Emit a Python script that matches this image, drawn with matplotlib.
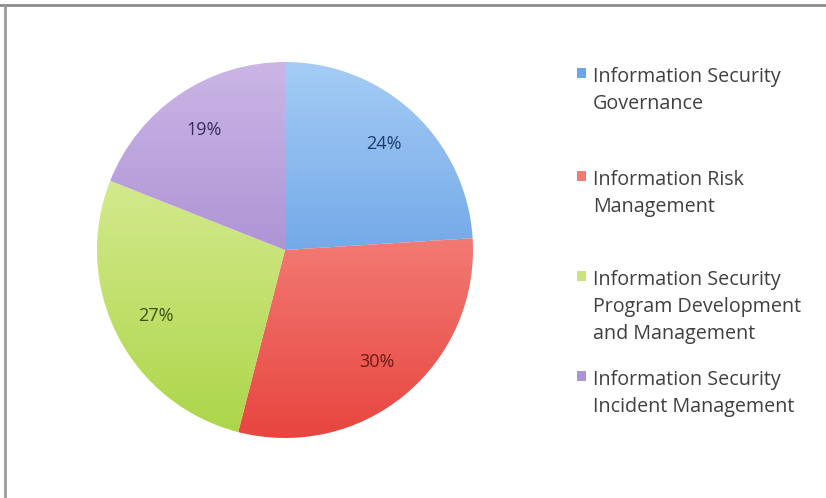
import numpy as np
import matplotlib
matplotlib.use("Agg")
import matplotlib.pyplot as plt
from matplotlib.colors import LinearSegmentedColormap
from matplotlib.patches import Rectangle
from matplotlib.lines import Line2D

# chart data
categories = [
    "Information Security\nGovernance",
    "Information Risk\nManagement",
    "Information Security\nProgram Development\nand Management",
    "Information Security\nIncident Management",
]
shares = [24, 30, 27, 19]
labels = ["24%", "30%", "27%", "19%"]

# gradient colours (top, bottom) and label colours per slice
top_colors = ["#a5ccf5", "#fbaaa3", "#e6f3ad", "#cbb6e6"]
bottom_colors = ["#4388dc", "#e8453f", "#acd548", "#9273c4"]
mid_colors = ["#6aa6e8", "#f27a72", "#c9e47a", "#ad94d6"]
text_colors = ["#1c3a66", "#6e1a18", "#3c5214", "#3c2a5c"]

W, H = 826, 498
fig = plt.figure(figsize=(W / 100, H / 100), dpi=100)
fig.patch.set_facecolor("white")

cx, cy, r = 285, 250, 188
ax = fig.add_axes([(cx - r) / W, (H - cy - r) / H, 2 * r / W, 2 * r / H])

wedges, texts = ax.pie(shares, startangle=90, counterclock=False, radius=1,
                       colors=mid_colors, labels=labels, labeldistance=0.77,
                       wedgeprops=dict(linewidth=0))
ax.set_xlim(-1, 1)
ax.set_ylim(-1, 1)
ax.set_aspect("equal")
ax.axis("off")

grad = np.linspace(1, 0, 256).reshape(-1, 1)
for w, c0, c1, tc, t in zip(wedges, top_colors, bottom_colors, text_colors, texts):
    cmap = LinearSegmentedColormap.from_list("g", [c1, c0])
    im = ax.imshow(grad, cmap=cmap, extent=(-1, 1, -1, 1), origin="upper",
                   aspect="auto", zorder=1)
    im.set_clip_path(w)
    w.set_facecolor("none")
    t.set_ha("center")
    t.set_va("center")
    t.set_color(tc)
    t.set_fontsize(13)
    t.set_family("Open Sans")
    t.set_zorder(3)

# legend drawn by hand (y = pixel centre of first text line)
leg_y = [75, 178, 278, 378]
for name, y, c in zip(categories, leg_y, mid_colors):
    fig.patches.append(Rectangle((577 / W, 1 - (y + 3) / H), 9 / W, 10 / H,
                                 transform=fig.transFigure, facecolor=c,
                                 edgecolor="none"))
    fig.text(593 / W, 1 - (y - 8) / H, name, ha="left", va="top",
             fontsize=14.2, family="Open Sans", color="#404040", linespacing=1.47)

# frame lines on top and left
fig.add_artist(Line2D([0, 1], [1 - 5 / H, 1 - 5 / H], transform=fig.transFigure,
                      color="#8c8c8c", linewidth=2))
fig.add_artist(Line2D([5 / W, 5 / W], [0, 1 - 5 / H], transform=fig.transFigure,
                      color="#9a9a9a", linewidth=2))

fig.savefig("out.png", dpi=100)
